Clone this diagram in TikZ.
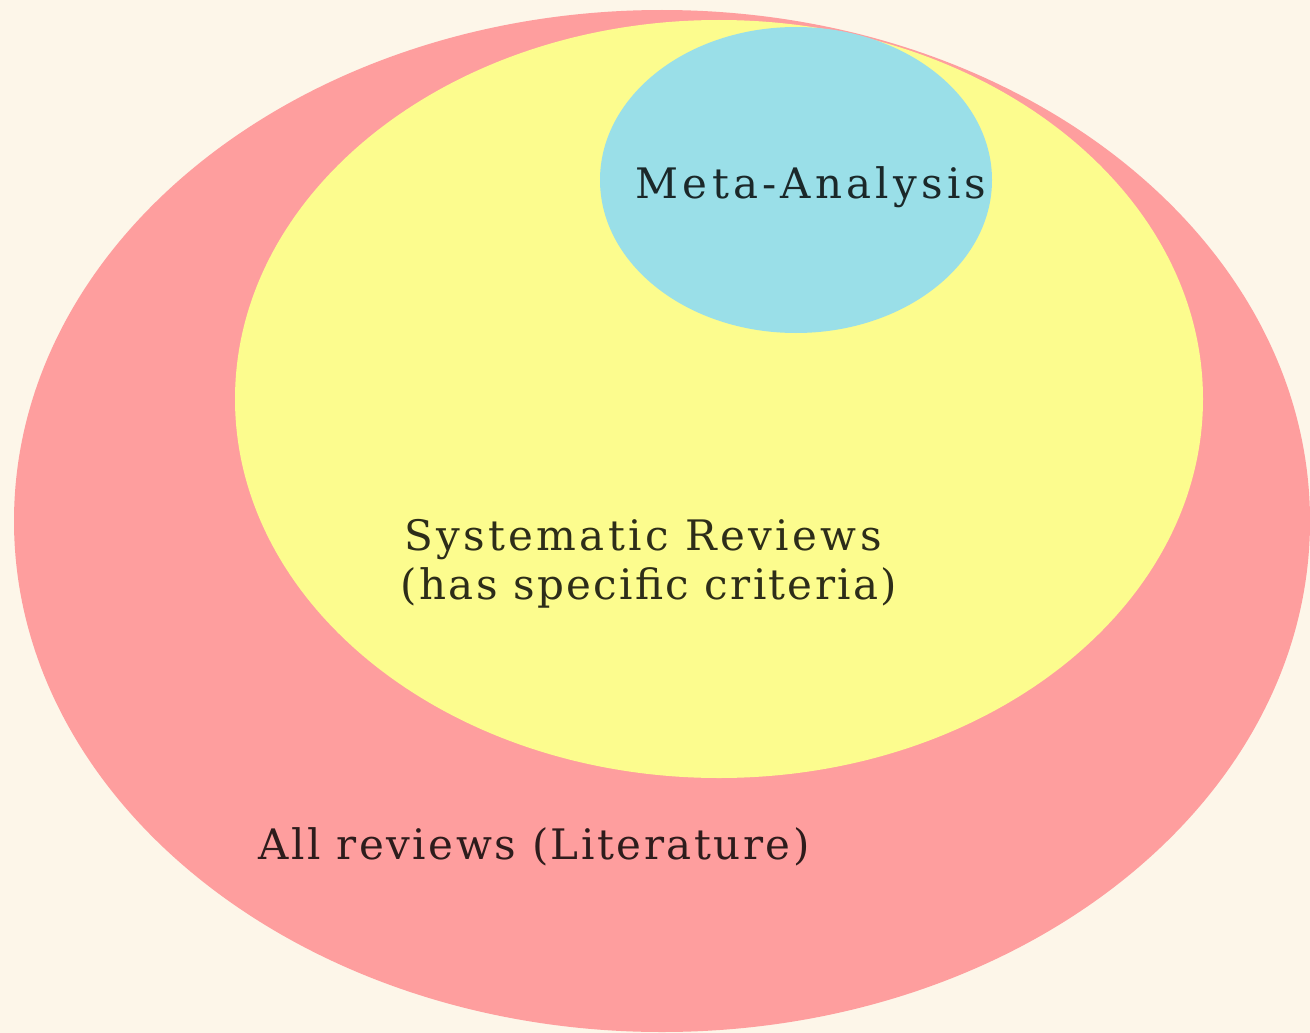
\documentclass[tikz,border=0pt]{standalone}
\usepackage{fontspec}
\setmainfont{DejaVu Serif}
\definecolor{bgcream}{HTML}{FDF6E9}
\definecolor{allred}{HTML}{FE9E9E}
\definecolor{sysyellow}{HTML}{FCFC8E}
\definecolor{metablue}{HTML}{9ADFE8}
\tikzset{
  region/.style={draw=none},
  label text/.style={text=black, text opacity=0.82, anchor=base,
    font=\fontsize{42}{50}\selectfont, inner sep=0pt}
}
\newcommand{\spaced}[2]{{\addfontfeature{LetterSpace=#1}#2}}
\begin{document}
\begin{tikzpicture}[x=1pt,y=-1pt]
  % canvas
  \fill[bgcream] (0,0) rectangle (1310,1033);
  \useasboundingbox (0,0) rectangle (1310,1033);
  % nested sets
  \fill[region, allred] (662,521) ellipse [x radius=648, y radius=511];
  \fill[region, sysyellow] (719,399) ellipse [x radius=484, y radius=379];
  \fill[region, metablue] (796,180) ellipse [x radius=196, y radius=153];
  % labels
  \node[label text] (meta) at (811,198) {\spaced{10}{Meta-Analysis}};
  \node[label text] (sys) at (643,550) {\spaced{8}{Systematic Reviews}};
  \node[label text] (crit) at (649,599) {\spaced{5.5}{(has specific criteria)}};
  \node[label text] (all) at (534,859) {\spaced{6}{All reviews (Literature)}};
\end{tikzpicture}
\end{document}
